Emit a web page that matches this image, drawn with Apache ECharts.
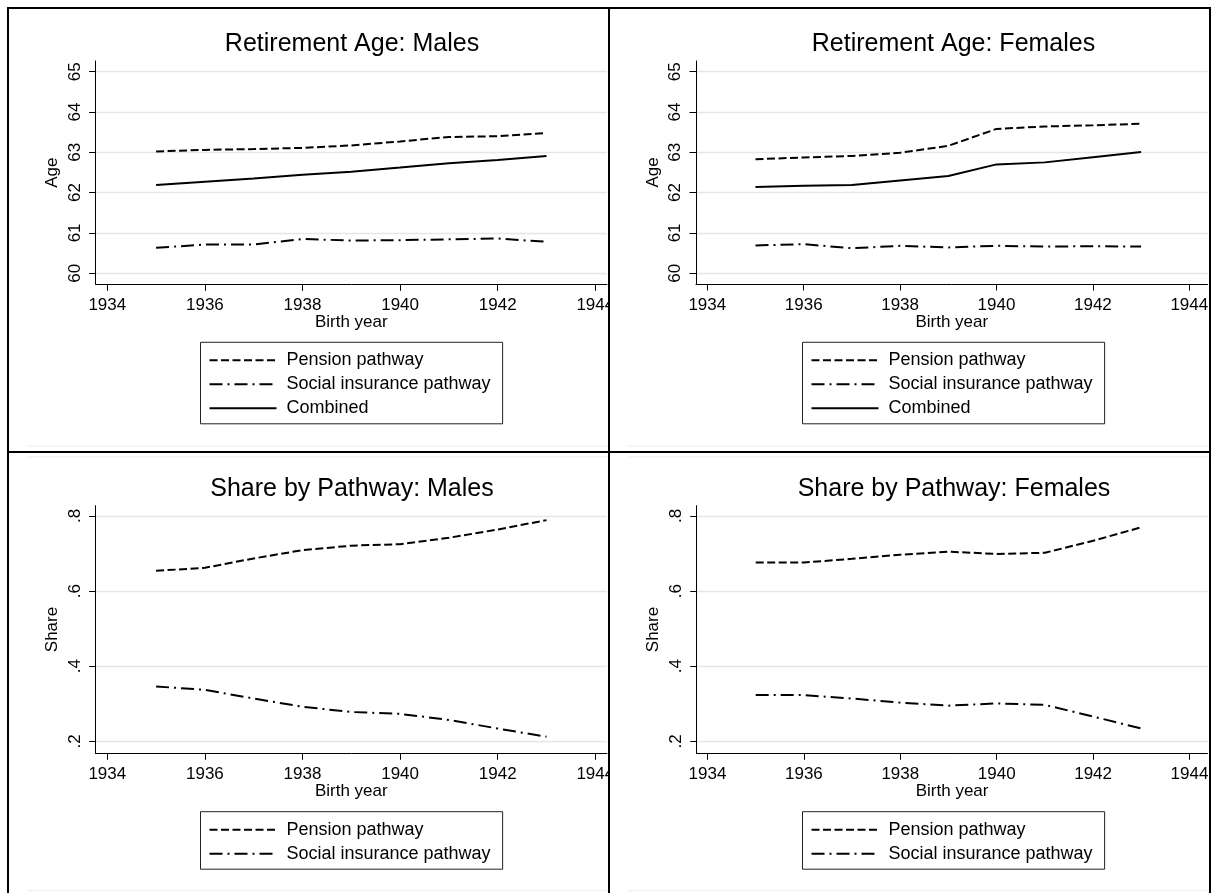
<!DOCTYPE html>
<html><head><meta charset="utf-8">
<script src="https://cdn.jsdelivr.net/npm/echarts@6/dist/echarts.min.js"></script>
<style>
html,body{margin:0;padding:0;background:#fff;width:1213px;height:893px;overflow:hidden;position:relative}
.clip{position:absolute;overflow:hidden;background:#fff}
.chart{position:absolute;left:0;top:0;width:720px}
.rule{position:absolute;background:#000}
</style></head><body>
<div class="clip" id="tl" style="left:9px;top:9px;width:599px;height:442px"><div class="chart" id="c_tl" style="height:442px"></div></div>
<div class="clip" id="tr" style="left:610px;top:9px;width:599px;height:442px"><div class="chart" id="c_tr" style="height:442px"></div></div>
<div class="clip" id="bl" style="left:9px;top:453px;width:599px;height:440px"><div class="chart" id="c_bl" style="height:440px"></div></div>
<div class="clip" id="br" style="left:610px;top:453px;width:599px;height:440px"><div class="chart" id="c_br" style="height:440px"></div></div>
<div class="rule" style="left:7px;top:7px;width:1204px;height:2px"></div>
<div class="rule" style="left:7px;top:7px;width:2px;height:886px"></div>
<div class="rule" style="left:608px;top:7px;width:2px;height:886px"></div>
<div class="rule" style="left:7px;top:451px;width:1204px;height:2px"></div>
<div class="rule" style="left:1209px;top:7px;width:2px;height:886px"></div>
<script>
// ---- data ----
const birthYears = [1935, 1936, 1937, 1938, 1939, 1940, 1941, 1942, 1943];
const xTicks = [1934, 1936, 1938, 1940, 1942, 1944];
const ageTicks = [60, 61, 62, 63, 64, 65];
const shareTicks = [0.2, 0.4, 0.6, 0.8];
const nameP = 'Pension pathway';
const nameS = 'Social insurance pathway';
const nameC = 'Combined';
const ageMalePension   = [63.02, 63.06, 63.08, 63.11, 63.17, 63.27, 63.38, 63.40, 63.48];
const ageMaleSocial    = [60.63, 60.71, 60.71, 60.85, 60.81, 60.82, 60.84, 60.86, 60.78];
const ageMaleCombined  = [62.19, 62.27, 62.35, 62.44, 62.52, 62.62, 62.73, 62.81, 62.91];
const ageFemalePension = [62.83, 62.87, 62.91, 62.99, 63.16, 63.58, 63.64, 63.67, 63.71];
const ageFemaleSocial  = [60.69, 60.72, 60.62, 60.68, 60.64, 60.68, 60.66, 60.67, 60.66];
const ageFemaleCombined= [62.14, 62.17, 62.19, 62.30, 62.41, 62.70, 62.75, 62.88, 63.01];
const shareMalePension   = [0.654, 0.662, 0.687, 0.709, 0.721, 0.725, 0.742, 0.764, 0.789];
const shareMaleSocial    = [0.346, 0.337, 0.314, 0.292, 0.278, 0.273, 0.257, 0.234, 0.212];
const shareFemalePension = [0.676, 0.676, 0.686, 0.697, 0.705, 0.699, 0.702, 0.734, 0.770];
const shareFemaleSocial  = [0.323, 0.323, 0.314, 0.303, 0.295, 0.301, 0.297, 0.266, 0.234];

// ---- styles ----
const FONT = '"Liberation Sans", Arial, Helvetica, sans-serif';
const DASH = [8, 3.5];
const DASHDOT = [13, 5, 2, 5];
const STYLE = {};
STYLE[nameP] = DASH; STYLE[nameS] = DASHDOT; STYLE[nameC] = 'solid';

const ageFmt = v => String(Math.round(v));
const shareFmt = v => String(Math.round(v * 10) / 10).replace(/^0\./, '.');

const panels = [
  {el: 'c_tl', title: 'Retirement Age: Males', yName: 'Age', yTicks: ageTicks, yFmt: ageFmt,
   series: [[nameP, ageMalePension], [nameS, ageMaleSocial], [nameC, ageMaleCombined]],
   axisX: 86.6, x0px: 98.3, ppy: 48.8, rightPx: 598, plotTop: 52, plotBottom: 275.3,
   topTickVal: 65, topTickPx: 62.7, unitPx: 40.3, titleX: 343, titleTop: 23, legL: 191.5, legT: 333.3, fade: [437]},
  {el: 'c_tr', title: 'Retirement Age: Females', yName: 'Age', yTicks: ageTicks, yFmt: ageFmt,
   series: [[nameP, ageFemalePension], [nameS, ageFemaleSocial], [nameC, ageFemaleCombined]],
   axisX: 86, x0px: 97.3, ppy: 48.2, rightPx: 597.5, plotTop: 52, plotBottom: 275,
   topTickVal: 65, topTickPx: 62.7, unitPx: 40.3, titleX: 343.5, titleTop: 23, legL: 192.5, legT: 333.3, fade: [437]},
  {el: 'c_bl', title: 'Share by Pathway: Males', yName: 'Share', yTicks: shareTicks, yFmt: shareFmt,
   series: [[nameP, shareMalePension], [nameS, shareMaleSocial]],
   axisX: 86.6, x0px: 98.3, ppy: 48.8, rightPx: 598, plotTop: 52.7, plotBottom: 300.3,
   topTickVal: 0.8, topTickPx: 63, unitPx: 375.5, titleX: 343, titleTop: 24, legL: 191.5, legT: 358.7, fade: [4, 437.7]},
  {el: 'c_br', title: 'Share by Pathway: Females', yName: 'Share', yTicks: shareTicks, yFmt: shareFmt,
   series: [[nameP, shareFemalePension], [nameS, shareFemaleSocial]],
   axisX: 86.7, x0px: 97.5, ppy: 48.2, rightPx: 597.5, plotTop: 52.7, plotBottom: 300.3,
   topTickVal: 0.8, topTickPx: 63, unitPx: 375.5, titleX: 344, titleTop: 24, legL: 192.5, legT: 358.7, fade: [4, 437.7]}
];

function buildOption(p) {
  const xMin = 1934 - (p.x0px - p.axisX) / p.ppy;
  const xMax = 1934 + (p.rightPx - p.x0px) / p.ppy;
  const yMax = p.topTickVal + (p.topTickPx - p.plotTop) / p.unitPx;
  const yMin = p.topTickVal - (p.plotBottom - p.topTickPx) / p.unitPx;
  const axisCommon = {
    type: 'value', nameLocation: 'middle', nameMoveOverlap: false,
    nameTextStyle: {fontSize: 17, color: '#000', fontFamily: FONT},
    axisLine: {show: true, onZero: false, lineStyle: {color: '#000', width: 1}},
  };
  return {
    animation: false,
    backgroundColor: '#fff',
    textStyle: {fontFamily: FONT},
    title: {text: p.title, left: p.titleX, top: p.titleTop, textAlign: 'center', padding: 0,
      textStyle: {fontSize: 25, fontWeight: 'normal', color: '#000', fontFamily: FONT}},
    grid: {left: p.axisX, top: p.plotTop, width: p.rightPx - p.axisX, height: p.plotBottom - p.plotTop},
    xAxis: Object.assign({}, axisCommon, {
      min: xMin, max: xMax, name: 'Birth year', nameGap: 30,
      axisTick: {show: true, length: 6.5, customValues: xTicks, lineStyle: {color: '#000', width: 1}},
      axisLabel: {customValues: xTicks, margin: 13, fontSize: 17, color: '#000', fontFamily: FONT, formatter: v => String(v)},
      splitLine: {show: false}
    }),
    yAxis: Object.assign({}, axisCommon, {
      min: yMin, max: yMax, name: p.yName, nameGap: 34.5,
      axisTick: {show: true, length: 6.5, customValues: p.yTicks, lineStyle: {color: '#000', width: 1}},
      axisLabel: {customValues: p.yTicks, rotate: 90, margin: 12, fontSize: 17, color: '#000', fontFamily: FONT, formatter: p.yFmt},
      splitLine: {show: true, lineStyle: {color: '#e6e6e6', width: 1.3}}
    }),
    legend: {
      orient: 'vertical', left: p.legL, top: p.legT,
      padding: [8, 12, 5.5, 8],
      itemWidth: 67, itemHeight: 14, itemGap: 4,
      borderColor: '#222', borderWidth: 1, selectedMode: false,
      itemStyle: {opacity: 0, color: 'rgba(0,0,0,0)', borderColor: 'rgba(0,0,0,0)', borderWidth: 0},
      textStyle: {fontSize: 18, color: '#000', fontFamily: FONT, lineHeight: 20, padding: [0, 0, 0, 5]},
      data: p.series.map(s => s[0])
    },
    graphic: p.fade.map(y => ({type: 'line', silent: true, shape: {x1: 18, y1: y, x2: 720, y2: y},
      style: {stroke: '#ececec', lineWidth: 1}})),
    series: p.series.map(s => ({
      name: s[0], type: 'line', symbol: 'none', showSymbol: false,
      data: birthYears.map((yr, i) => [yr, s[1][i]]),
      lineStyle: {color: '#000', width: 2, type: STYLE[s[0]]},
      itemStyle: {color: '#000'}
    }))
  };
}

panels.forEach(p => {
  const chart = echarts.init(document.getElementById(p.el), null, {renderer: 'canvas'});
  chart.setOption(buildOption(p));
});
</script>
</body></html>
